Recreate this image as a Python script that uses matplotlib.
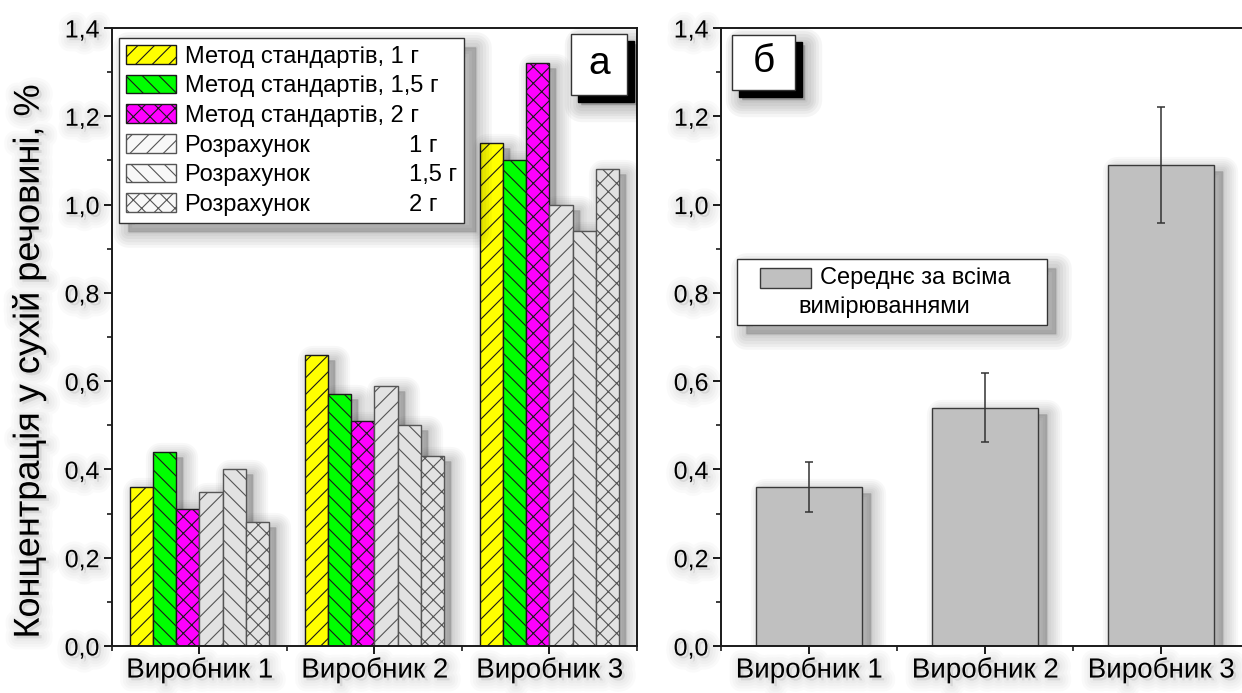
import matplotlib
matplotlib.use('Agg')
import matplotlib.pyplot as plt
import matplotlib.patheffects as pe
import numpy as np
from matplotlib.patches import Rectangle, Patch
from matplotlib.transforms import offset_copy
from matplotlib.ticker import FixedLocator, FixedFormatter

plt.rcParams['font.family'] = ['Liberation Sans', 'DejaVu Sans']
plt.rcParams['hatch.linewidth'] = 0.8

# ---------------- data ----------------
producers = ['Виробник 1', 'Виробник 2', 'Виробник 3']
gap = ' ' * 15
series_labels = ['Метод стандартів, 1 г', 'Метод стандартів, 1,5 г', 'Метод стандартів, 2 г',
                 'Розрахунок' + gap + '1 г', 'Розрахунок' + gap + '1,5 г',
                 'Розрахунок' + gap + '2 г']
std_1g = [0.36, 0.66, 1.14]
std_15g = [0.44, 0.57, 1.10]
std_2g = [0.31, 0.51, 1.32]
calc_1g = [0.35, 0.59, 1.00]
calc_15g = [0.40, 0.50, 0.94]
calc_2g = [0.28, 0.43, 1.08]
mean_all = [0.36, 0.54, 1.09]
mean_err = [0.057, 0.078, 0.131]
mean_label = ['Середнє за всіма', 'вимірюваннями']
y_ticks = [0.0, 0.2, 0.4, 0.6, 0.8, 1.0, 1.2, 1.4]
y_tick_labels = ['0,0', '0,2', '0,4', '0,6', '0,8', '1,0', '1,2', '1,4']
y_label = 'Концентрація у сухій речовині, %'
panel_labels = ['а', 'б']

# ---------------- styles ----------------
faces = ['#ffff00', '#00ff00', '#ff00ff', '#e2e2e2', '#e2e2e2', '#e2e2e2']
legend_faces = ['#ffff00', '#00ff00', '#ff00ff', '#f8f8f8', '#f8f8f8', '#f8f8f8']
hatches = ['//', '\\\\', 'xx', '//', '\\\\', 'xx']
edges = ['#1a1a1a', '#1a1a1a', '#1a1a1a', '#555555', '#555555', '#555555']

W, H = 1242, 693
fig = plt.figure(figsize=(W / 100, H / 100), dpi=100)
fig.patch.set_facecolor('white')

AX_BOTTOM, AX_TOP = 646, 28

# soft glow behind free-standing text (imitates the blurred drop shadow of the original)
text_glow = [pe.Stroke(linewidth=lw, foreground='black', alpha=0.018, offset=(2, -2))
             for lw in (4, 8, 12, 16)] + [pe.Normal()]


def soft_shadow(ax, x, y, w, h, transform, dx=6, dy=-6, zorder=1.5,
                widths=tuple(range(0, 22, 3)), alpha=0.028, clip=True):
    tr = offset_copy(transform, fig=fig, x=dx, y=dy, units='dots')
    for lw in widths:
        r = Rectangle((x, y), w, h, transform=tr, facecolor='black',
                      edgecolor='black', linewidth=lw, alpha=alpha,
                      zorder=zorder, joinstyle='round', clip_on=clip)
        ax.add_patch(r)


def label_box(ax, x0, y0, x1, y1, txt):
    tr = ax.transAxes
    soft_shadow(ax, x0, y0, x1 - x0, y1 - y0, tr, dx=10, dy=-10, zorder=6,
                widths=tuple(range(4, 28, 4)), alpha=0.04)
    solid = Rectangle((x0, y0), x1 - x0, y1 - y0,
                      transform=offset_copy(tr, fig=fig, x=7, y=-7, units='dots'),
                      facecolor='black', edgecolor='black', zorder=6.5, clip_on=False)
    ax.add_patch(solid)
    box = Rectangle((x0, y0), x1 - x0, y1 - y0, transform=tr, facecolor='white',
                    edgecolor='#333333', linewidth=1.0, zorder=7, clip_on=False)
    ax.add_patch(box)
    ax.text((x0 + x1) / 2, (y0 + y1) / 2, txt, transform=tr, ha='center', va='center',
            fontsize=28, zorder=8)


def style_axes(ax):
    for s in ['left', 'bottom', 'top', 'right']:
        ax.spines[s].set_linewidth(1.4)
        ax.spines[s].set_color('#1a1a1a')
    ax.set_ylim(0, 1.4)
    ax.yaxis.set_major_locator(FixedLocator(y_ticks))
    ax.yaxis.set_major_formatter(FixedFormatter(y_tick_labels))
    ax.yaxis.set_minor_locator(FixedLocator(np.arange(0.1, 1.4, 0.2)))
    ax.set_xticks([1, 2, 3])
    ax.set_xticklabels(producers)
    ax.xaxis.set_minor_locator(FixedLocator([0.5, 1.5, 2.5, 3.5]))
    ax.tick_params(which='major', direction='out', length=6, width=1.4, labelsize=18,
                   pad=3, colors='#1a1a1a', labelcolor='black')
    ax.tick_params(axis='x', which='major', labelsize=20, pad=2)
    ax.tick_params(which='minor', direction='out', length=3.5, width=1.2, colors='#1a1a1a')
    ax.tick_params(axis='x', which='both', top=False)
    ax.tick_params(axis='y', which='both', right=False)
    for t in ax.get_xticklabels() + ax.get_yticklabels():
        t.set_path_effects(text_glow)


# ---------------- panel a ----------------
axA = fig.add_axes([112 / W, 1 - AX_BOTTOM / H, (637 - 112) / W, (AX_BOTTOM - AX_TOP) / H])
style_axes(axA)
axA.set_xlim(0.5, 3.5)
x = np.arange(1, 4)
series = [std_1g, std_15g, std_2g, calc_1g, calc_15g, calc_2g]
bw = 0.133
offsets = (np.arange(6) - 2.5) * bw
for i, vals in enumerate(series):
    bars = axA.bar(x + offsets[i], vals, bw, facecolor=faces[i], edgecolor=edges[i],
                   hatch=hatches[i], linewidth=1.0, zorder=2)
    for p in bars:
        soft_shadow(axA, p.get_x(), p.get_y(), p.get_width(), p.get_height(),
                    axA.transData, dx=7, dy=-5)

handles = [Patch(facecolor=legend_faces[i], edgecolor=edges[i], hatch=hatches[i],
                 linewidth=1.0) for i in range(6)]
leg = axA.legend(handles, series_labels, loc='upper left',
                 bbox_to_anchor=(0.0126, 0.984), fontsize=17, frameon=True,
                 fancybox=False, edgecolor='#333333', framealpha=1, borderaxespad=0,
                 handlelength=2.15, handleheight=0.85, handletextpad=0.35,
                 labelspacing=0.3, borderpad=0.3)
leg.get_frame().set_linewidth(1.0)
leg.set_zorder(6)

# blurred shadow behind legend a (in axes coords, measured box)
soft_shadow(axA, 0.0126, 0.684, 0.676 - 0.0126, 0.984 - 0.684, axA.transAxes,
            dx=9, dy=-9, zorder=4, widths=tuple(range(2, 26, 4)), alpha=0.035)

label_box(axA, 0.874, 0.892, 0.981, 0.990, panel_labels[0])

fig.text(29 / W, 1 - 362 / H, y_label, rotation=90, ha='center', va='center',
         fontsize=26, path_effects=text_glow)

# ---------------- panel b ----------------
axB_left = 721
axB_right = 721 + 3 * 176
axB = fig.add_axes([axB_left / W, 1 - AX_BOTTOM / H, (axB_right - axB_left) / W,
                    (AX_BOTTOM - AX_TOP) / H])
style_axes(axB)
axB.set_xlim(0.5, 3.5)
axB.spines['right'].set_visible(False)
barsB = axB.bar(x, mean_all, 0.6, facecolor='#c0c0c0', edgecolor='#3a3a3a',
                linewidth=1.0, zorder=2)
for p in barsB:
    soft_shadow(axB, p.get_x(), p.get_y(), p.get_width(), p.get_height(),
                axB.transData, dx=9, dy=-6)
axB.errorbar(x, mean_all, yerr=mean_err, fmt='none', ecolor='#333333',
             elinewidth=1.1, capsize=3, capthick=1.1, zorder=3)

# legend of panel b (two-line label)
lx0, ly0, lx1, ly1 = 0.0303, 0.519, 0.617, 0.626
soft_shadow(axB, lx0, ly0, lx1 - lx0, ly1 - ly0, axB.transAxes, dx=9, dy=-9,
            zorder=4, widths=tuple(range(2, 26, 4)), alpha=0.035)
axB.add_patch(Rectangle((lx0, ly0), lx1 - lx0, ly1 - ly0, transform=axB.transAxes,
                        facecolor='white', edgecolor='#333333', linewidth=1.0, zorder=5))
axB.add_patch(Rectangle((0.0739, 0.5793), 0.1705 - 0.0739, 0.6117 - 0.5793,
                        transform=axB.transAxes, facecolor='#c0c0c0',
                        edgecolor='#3a3a3a', linewidth=1.0, zorder=6))
axB.text(0.1875, 0.5955, mean_label[0], transform=axB.transAxes, ha='left',
         va='center', fontsize=17, zorder=7)
axB.text(0.1458, 0.5485, mean_label[1], transform=axB.transAxes, ha='left',
         va='center', fontsize=17, zorder=7)

label_box(axB, 0.0208, 0.8997, 0.140, 0.9887, panel_labels[1])

fig.savefig('out.png', dpi=100, facecolor='white')
